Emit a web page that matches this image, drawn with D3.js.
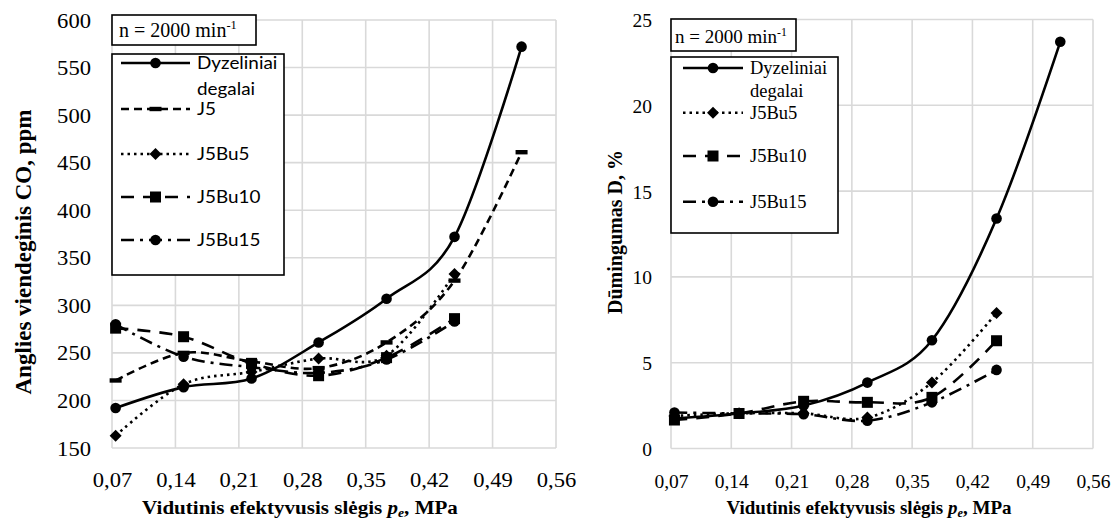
<!DOCTYPE html>
<html>
<head>
<meta charset="utf-8">
<script src="https://cdn.jsdelivr.net/npm/d3@7"></script>
<style>
  html, body { margin: 0; padding: 0; background: #fff; }
  svg { display: block; }
</style>
</head>
<body>
<svg id="chart" width="1113" height="520"></svg>
<script>
// Mean effective pressure measurement points, MPa
const pe = [0.074, 0.149, 0.224, 0.298, 0.373, 0.448, 0.522];
const peTicks = [0.07, 0.14, 0.21, 0.28, 0.35, 0.42, 0.49, 0.56];

// Carbon monoxide CO, ppm
const coTicks = [150, 200, 250, 300, 350, 400, 450, 500, 550, 600];
const coDiesel = [192, 214, 223, 261, 307, 372, 572];
const coJ5 = [221, 250, 241, 234, 261, 326, 461];
const coJ5Bu5 = [163, 217, 230, 244, 247, 333];
const coJ5Bu10 = [276, 267, 239, 226, 245, 286];
const coJ5Bu15 = [280, 246, 235, 229, 243, 283];

// Smoke opacity D, %
const smokeTicks = [0, 5, 10, 15, 20, 25];
const smokeDiesel = [1.75, 2.04, 2.5, 3.84, 6.31, 13.4, 23.7];
const smokeJ5Bu5 = [1.9, 2.05, 2.05, 1.8, 3.85, 7.9];
const smokeJ5Bu10 = [1.66, 2.04, 2.75, 2.69, 2.98, 6.28];
const smokeJ5Bu15 = [2.1, 2.04, 2.0, 1.62, 2.69, 4.58];

// Series names
const nameDiesel = ["Dyzeliniai", "degalai"];
const nameJ5 = "J5";
const nameJ5Bu5 = "J5Bu5";
const nameJ5Bu10 = "J5Bu10";
const nameJ5Bu15 = "J5Bu15";

const speedLabel = "n = 2000 min";
const speedSup = "-1";
const xTitle = ["Vidutinis efektyvusis slėgis ", "p", "e", ", MPa"];
const coTitle = "Anglies viendeginis CO, ppm";
const smokeTitle = "Dūmingumas D, %";

// Line / marker styles per series
const styles = {
  diesel: { dash: null, marker: "circle" },
  j5:     { dash: "8,5", marker: "bar" },
  bu5:    { dash: "2.5,4", marker: "diamond" },
  bu10:   { dash: "13,9", marker: "square" },
  bu15:   { dash: "13,6,3,6", marker: "circle" }
};

const SERIF = "'Liberation Serif', 'Times New Roman', serif";
const SANS = "Lato, 'Liberation Sans', sans-serif";
const svg = d3.select("#chart");

function fmtTick(v) { return d3.format(".2f")(v).replace(".", ","); }

// text helper with optional horizontal stretch
function label(g, x, y, str, o) {
  o = o || {};
  const t = g.append("text")
    .attr("transform", `translate(${x},${y})${o.rotate ? ` rotate(${o.rotate})` : ""} scale(${o.sx || 1},1)`)
    .attr("font-family", o.family || SERIF)
    .attr("font-size", o.size || 18)
    .attr("font-weight", o.weight || "normal")
    .attr("text-anchor", o.anchor || "start")
    .attr("fill", "#000")
    .text(str);
  return t;
}

function drawMarker(g, kind, x, y) {
  if (kind === "circle") {
    g.append("circle").attr("cx", x).attr("cy", y).attr("r", 5.3).attr("fill", "#000");
  } else if (kind === "square") {
    g.append("rect").attr("x", x - 5.5).attr("y", y - 5.5).attr("width", 11).attr("height", 11).attr("fill", "#000");
  } else if (kind === "diamond") {
    g.append("path").attr("d", `M${x},${y - 6}L${x + 6},${y}L${x},${y + 6}L${x - 6},${y}Z`).attr("fill", "#000");
  } else if (kind === "bar") {
    g.append("rect").attr("x", x - 6).attr("y", y - 2.2).attr("width", 12).attr("height", 4.4).attr("fill", "#000");
  }
}

function panel(cfg) {
  const g = svg.append("g");
  const x = d3.scaleLinear().domain([0.07, 0.56]).range([cfg.left, cfg.right]);
  const y = d3.scaleLinear().domain(cfg.yDomain).range([cfg.bottom, cfg.top]);

  // grid
  const grid = g.append("g").attr("stroke", "#d9d9d9").attr("stroke-width", 1.6);
  peTicks.forEach(t => grid.append("line").attr("x1", x(t)).attr("x2", x(t)).attr("y1", cfg.top).attr("y2", cfg.bottom));
  cfg.yTicks.forEach(t => grid.append("line").attr("x1", cfg.left).attr("x2", cfg.right).attr("y1", y(t)).attr("y2", y(t)));

  // axes via d3 axis generators, styled as plain labels
  const xAxis = g.append("g").attr("transform", `translate(0,${cfg.bottom})`)
    .call(d3.axisBottom(x).tickValues(peTicks).tickFormat(fmtTick).tickSize(0).tickPadding(0));
  xAxis.select(".domain").remove();
  xAxis.selectAll(".tick text").remove();
  xAxis.selectAll(".tick").each(function (d) {
    label(d3.select(this), 0, 39, fmtTick(d), { anchor: "middle", size: cfg.tickSize, sx: cfg.tickSx });
  });

  const yAxis = g.append("g").attr("transform", `translate(${cfg.left},0)`)
    .call(d3.axisLeft(y).tickValues(cfg.yTicks).tickSize(0).tickPadding(0));
  yAxis.select(".domain").remove();
  yAxis.selectAll(".tick text").remove();
  yAxis.selectAll(".tick").each(function (d) {
    label(d3.select(this), -cfg.yLabelGap, 7, String(d), { anchor: "end", size: cfg.tickSize, sx: cfg.tickSx });
  });

  // series
  const line = d3.line().curve(d3.curveCardinal.tension(0)).x(d => x(d[0])).y(d => y(d[1]));
  const seriesG = g.append("g");
  cfg.series.forEach(s => {
    const pts = s.values.map((v, i) => [pe[i], v]);
    seriesG.append("path").attr("d", line(pts)).attr("fill", "none")
      .attr("stroke", "#000").attr("stroke-width", 2.6)
      .attr("stroke-dasharray", s.style.dash);
    pts.forEach(p => drawMarker(seriesG, s.style.marker, x(p[0]), y(p[1])));
  });

  // speed box
  const sb = cfg.speedBox;
  g.append("rect").attr("x", sb.x).attr("y", sb.y).attr("width", sb.w).attr("height", sb.h)
    .attr("fill", "#fff").attr("stroke", "#000").attr("stroke-width", 1.6);
  const st = label(g, sb.x + sb.tx, sb.y + sb.ty, speedLabel, { size: sb.size });
  st.append("tspan").attr("dy", -sb.size * 0.38).attr("font-size", sb.size * 0.62).text(speedSup);

  // legend
  const lb = cfg.legend;
  g.append("rect").attr("x", lb.x).attr("y", lb.y).attr("width", lb.w).attr("height", lb.h)
    .attr("fill", "#fff").attr("stroke", "#000").attr("stroke-width", 1.6);
  cfg.series.forEach((s, i) => {
    const cy = lb.rows[i];
    g.append("line").attr("x1", lb.lx1).attr("x2", lb.lx2).attr("y1", cy).attr("y2", cy)
      .attr("stroke", "#000").attr("stroke-width", 2.6).attr("stroke-dasharray", s.style.dash);
    drawMarker(g, s.style.marker, (lb.lx1 + lb.lx2) / 2, cy);
    const names = Array.isArray(s.name) ? s.name : [s.name];
    names.forEach((n, k) => label(g, lb.tx, cy + 6 + k * lb.lineGap, n, { family: lb.family, size: lb.size, sx: lb.sx }));
  });

  // axis titles
  const xt = label(g, cfg.xTitle.x, cfg.xTitle.y, "", { anchor: "middle", weight: "bold", size: cfg.xTitle.size, sx: cfg.xTitle.sx });
  xt.append("tspan").text(xTitle[0]);
  xt.append("tspan").attr("font-style", "italic").text(xTitle[1]);
  xt.append("tspan").attr("font-style", "italic").attr("font-size", cfg.xTitle.size * 0.65).attr("dy", 3).text(xTitle[2]);
  xt.append("tspan").attr("dy", -3).text(xTitle[3]);

  label(g, cfg.yTitle.x, cfg.yTitle.y, cfg.yTitle.text, { anchor: "middle", weight: "bold", size: cfg.yTitle.size, rotate: -90 });
}

// Left: carbon monoxide
panel({
  left: 112, right: 556, top: 20, bottom: 448,
  yDomain: [150, 600], yTicks: coTicks, yLabelGap: 21, tickSize: 20, tickSx: 1.13,
  series: [
    { name: nameDiesel, values: coDiesel, style: styles.diesel },
    { name: nameJ5, values: coJ5, style: styles.j5 },
    { name: nameJ5Bu5, values: coJ5Bu5, style: styles.bu5 },
    { name: nameJ5Bu10, values: coJ5Bu10, style: styles.bu10 },
    { name: nameJ5Bu15, values: coJ5Bu15, style: styles.bu15 }
  ],
  speedBox: { x: 112, y: 15, w: 144, h: 30, tx: 7, ty: 22, size: 20 },
  legend: { x: 112, y: 54, w: 172, h: 221, lx1: 121, lx2: 190, tx: 197, family: SANS, size: 18, sx: 1.05,
            lineGap: 26, rows: [63, 109, 154, 197, 240] },
  xTitle: { x: 300, y: 513.5, size: 19.5, sx: 1.08 },
  yTitle: { x: 31, y: 252, size: 23, text: coTitle }
});

// Right: smoke opacity
panel({
  left: 671, right: 1093, top: 19.5, bottom: 448.5,
  yDomain: [0, 25], yTicks: smokeTicks, yLabelGap: 19, tickSize: 19.5, tickSx: 1.0,
  series: [
    { name: nameDiesel, values: smokeDiesel, style: styles.diesel },
    { name: nameJ5Bu5, values: smokeJ5Bu5, style: styles.bu5 },
    { name: nameJ5Bu10, values: smokeJ5Bu10, style: styles.bu10 },
    { name: nameJ5Bu15, values: smokeJ5Bu15, style: styles.bu15 }
  ],
  speedBox: { x: 671, y: 19, w: 125, h: 32, tx: 4, ty: 24, size: 19 },
  legend: { x: 671, y: 57, w: 167, h: 176, lx1: 683, lx2: 743, tx: 750, family: SERIF, size: 18.5, sx: 1.0,
            lineGap: 22.5, rows: [68, 112.7, 156, 201.7] },
  xTitle: { x: 869, y: 513.5, size: 19, sx: 1.0 },
  yTitle: { x: 622, y: 232, size: 20, text: smokeTitle }
});
</script>
</body>
</html>
